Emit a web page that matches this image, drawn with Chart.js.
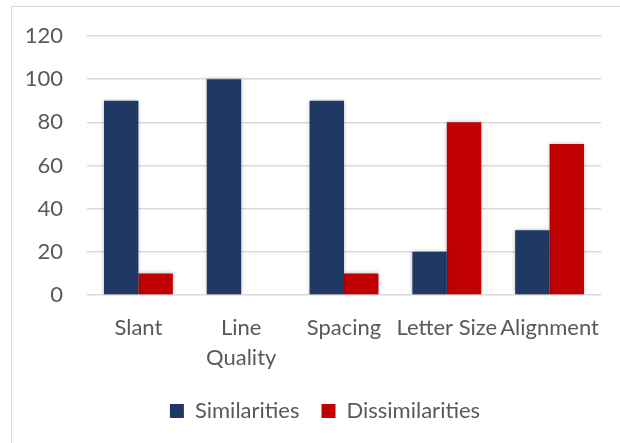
<!DOCTYPE html>
<html>
<head>
<meta charset="utf-8">
<script src="https://cdn.jsdelivr.net/npm/chart.js@4.4.1/dist/chart.umd.min.js"></script>
<style>
  html, body { margin: 0; padding: 0; background: #ffffff; overflow: hidden; }
  #frame {
    position: absolute; left: 11px; top: 6px;
    width: 626px; height: 468px;
    border-top: 1px solid #d9d9d9; border-left: 1px solid #d9d9d9;
    background: #ffffff;
  }
  #chart { display: block; }
</style>
</head>
<body>
<div id="frame"><canvas id="chart" width="626" height="468"></canvas></div>
<script>
// Handwriting feature comparison
const categories = ["Slant", ["Line", "Quality"], "Spacing", "Letter Size", "Alignment"];
const similarities = [90, 100, 90, 20, 30];
const dissimilarities = [10, 0, 10, 80, 70];
const yTicks = [0, 20, 40, 60, 80, 100, 120];

const FONT = "Lato, 'Liberation Sans', sans-serif";
const TEXT = "#595959";

// soft shadow behind the bars
const barShadow = {
  id: "barShadow",
  beforeDatasetsDraw(chart) {
    const ctx = chart.ctx;
    ctx.save();
    ctx.shadowColor = "rgba(0,0,0,0.28)";
    ctx.shadowBlur = 4;
    ctx.shadowOffsetX = 0;
    ctx.shadowOffsetY = 0;
  },
  afterDatasetsDraw(chart) {
    chart.ctx.restore();
  }
};

new Chart(document.getElementById("chart"), {
  type: "bar",
  data: {
    labels: categories,
    datasets: [
      { label: "Similarities", data: similarities, backgroundColor: "#203864",
        barPercentage: 1.0, categoryPercentage: 0.67 },
      { label: "Dissimilarities", data: dissimilarities, backgroundColor: "#C00000",
        barPercentage: 1.0, categoryPercentage: 0.67 }
    ]
  },
  plugins: [barShadow],
  options: {
    responsive: false,
    animation: false,
    layout: { padding: { left: 0, right: 0, top: 29, bottom: 43 } },
    plugins: {
      tooltip: { enabled: false },
      legend: {
        position: "bottom",
        labels: {
          boxWidth: 14, boxHeight: 14, padding: 22,
          color: TEXT, font: { family: FONT, size: 22 }
        }
      }
    },
    scales: {
      x: {
        grid: { display: false, drawTicks: false },
        border: { display: false },
        ticks: {
          color: TEXT, font: { family: FONT, size: 22, lineHeight: 1.36 },
          padding: 18, maxRotation: 0, minRotation: 0, autoSkip: false
        },
        afterFit(scale) { scale.height = 83; }
      },
      y: {
        min: 0, max: 120,
        afterBuildTicks(scale) { scale.ticks = yTicks.map(v => ({ value: v })); },
        grid: { color: "#d9d9d9", lineWidth: 1.5, drawTicks: true, tickLength: 24,
                tickColor: "rgba(0,0,0,0)" },
        border: { display: false },
        ticks: { color: TEXT, font: { family: FONT, size: 22 }, padding: 0 },
        afterFit(scale) { scale.width = 75; }
      },
      // empty margin to the right of the plot
      yRight: {
        type: "linear", position: "right", display: true,
        grid: { display: false, drawTicks: false },
        border: { display: false },
        ticks: { display: false },
        afterFit(scale) { scale.width = 37; }
      }
    }
  }
});
</script>
</body>
</html>
